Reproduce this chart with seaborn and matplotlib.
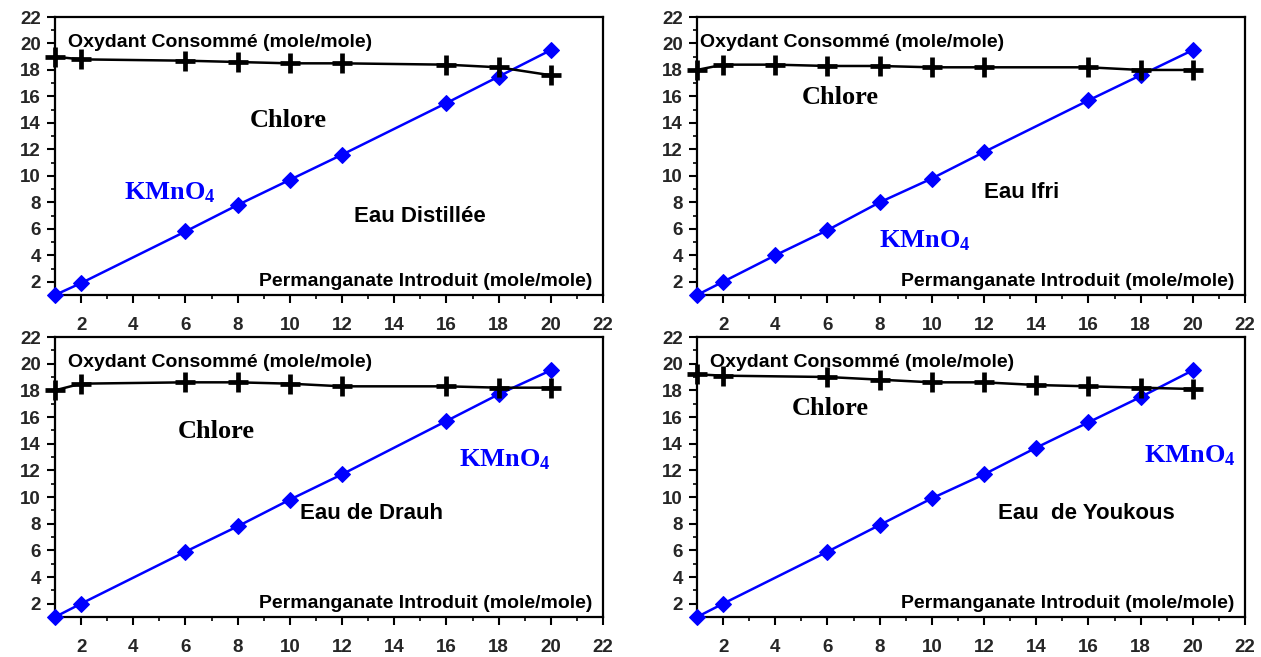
import numpy as np
import pandas as pd
import matplotlib
matplotlib.use("Agg")
import matplotlib.pyplot as plt
import seaborn as sns
from matplotlib.ticker import MultipleLocator

sns.set_theme(style="white")
plt.rcParams['font.family'] = ['Liberation Sans', 'DejaVu Sans']
plt.rcParams['mathtext.fontset'] = 'custom'
plt.rcParams['mathtext.rm'] = 'Liberation Serif:bold'
plt.rcParams['mathtext.bf'] = 'Liberation Serif:bold'
plt.rcParams['mathtext.it'] = 'Liberation Serif:bold'

# ---- data ----
x_dist = [1, 2, 6, 8, 10, 12, 16, 18, 20]
chl_dist = [19.0, 18.8, 18.7, 18.6, 18.5, 18.5, 18.4, 18.2, 17.6]
kmn_dist = [1.0, 1.9, 5.8, 7.8, 9.7, 11.6, 15.5, 17.5, 19.5]

x_ifri = [1, 2, 4, 6, 8, 10, 12, 16, 18, 20]
chl_ifri = [18.0, 18.4, 18.4, 18.3, 18.3, 18.2, 18.2, 18.2, 18.0, 18.0]
kmn_ifri = [1.0, 2.0, 4.0, 5.9, 8.0, 9.8, 11.8, 15.7, 17.6, 19.5]

x_drauh = [1, 2, 6, 8, 10, 12, 16, 18, 20]
chl_drauh = [18.0, 18.5, 18.6, 18.6, 18.5, 18.3, 18.3, 18.2, 18.2]
kmn_drauh = [1.0, 2.0, 5.9, 7.8, 9.8, 11.7, 15.7, 17.7, 19.5]

x_youk = [1, 2, 6, 8, 10, 12, 14, 16, 18, 20]
chl_youk = [19.2, 19.1, 19.0, 18.8, 18.6, 18.6, 18.4, 18.3, 18.2, 18.1]
kmn_youk = [1.0, 2.0, 5.9, 7.9, 9.9, 11.7, 13.7, 15.6, 17.5, 19.5]

titles = ["Eau Distillée", "Eau Ifri", "Eau de Drauh", "Eau  de Youkous"]
ylabel_txt = "Oxydant Consommé (mole/mole)"
xlabel_txt = "Permanganate Introduit (mole/mole)"
x_ticks = [2, 4, 6, 8, 10, 12, 14, 16, 18, 20, 22]
y_ticks = [2, 4, 6, 8, 10, 12, 14, 16, 18, 20, 22]

panels = [
    (x_dist, chl_dist, kmn_dist),
    (x_ifri, chl_ifri, kmn_ifri),
    (x_drauh, chl_drauh, kmn_drauh),
    (x_youk, chl_youk, kmn_youk),
]

# label positions (axes fraction)
chlore_pos = [(0.425, 0.626), (0.261, 0.709), (0.294, 0.661), (0.243, 0.746)]
kmn_pos = [(0.209, 0.367), (0.416, 0.194), (0.82, 0.561), (0.90, 0.575)]
title_pos = [(0.666, 0.284), (0.593, 0.367), (0.578, 0.368), (0.71, 0.368)]
oxy_x = [0.024, 0.005, 0.024, 0.024]

W, H = 1261, 657
fig = plt.figure(figsize=(W / 100, H / 100), dpi=100)
rects = [(55, 17, 548, 278), (697, 17, 548, 278), (55, 337, 548, 280), (697, 337, 548, 280)]

for i, ((xs, chl, kmn), (l, t, w, h)) in enumerate(zip(panels, rects)):
    ax = fig.add_axes([l / W, 1 - (t + h) / H, w / W, h / H])
    df = pd.DataFrame({"x": xs, "chlore": chl, "kmno4": kmn})
    sns.lineplot(data=df, x="x", y="kmno4", ax=ax, color="#0000FF", lw=1.8,
                 marker="D", markersize=8.5, markeredgecolor="#0000FF", clip_on=False, zorder=3)
    sns.lineplot(data=df, x="x", y="chlore", ax=ax, color="black", lw=1.8,
                 clip_on=False, zorder=4)
    ax.plot(df["x"], df["chlore"], ls="none", marker="+", markersize=14, mew=3.4,
            color="black", clip_on=False, zorder=5)
    ax.set_xlim(1, 22)
    ax.set_ylim(1, 22)
    ax.set_xlabel("")
    ax.set_ylabel("")
    ax.set_xticks(x_ticks)
    ax.set_yticks(y_ticks)
    ax.xaxis.set_minor_locator(MultipleLocator(1))
    ax.yaxis.set_minor_locator(MultipleLocator(1))
    ax.tick_params(axis="both", which="major", direction="out", length=6, width=1.5,
                   color="black", labelsize=13.5, bottom=True, left=True)
    ax.tick_params(axis="both", which="minor", direction="out", length=3, width=1.2,
                   color="black", bottom=True, left=True)
    ax.tick_params(axis="x", pad=10)
    ax.tick_params(axis="y", pad=4)
    for lab in ax.get_xticklabels() + ax.get_yticklabels():
        lab.set_fontweight("bold")
    for sp in ax.spines.values():
        sp.set_color("black")
        sp.set_linewidth(1.6)
    ax.text(oxy_x[i], 0.91, ylabel_txt, transform=ax.transAxes, ha="left", va="center",
            fontsize=14, fontweight="bold", color="black")
    ax.text(0.98, 0.047, xlabel_txt, transform=ax.transAxes, ha="right", va="center",
            fontsize=14, fontweight="bold", color="black")
    ax.text(*chlore_pos[i], "Chlore", transform=ax.transAxes, ha="center", va="center",
            fontsize=19, fontweight="bold", family="Liberation Serif", color="black")
    ax.text(*kmn_pos[i], r"$\mathrm{KMnO_4}$", transform=ax.transAxes, ha="center",
            va="center", fontsize=19, color="#0000FF")
    ax.text(*title_pos[i], titles[i], transform=ax.transAxes, ha="center", va="center",
            fontsize=16, fontweight="bold", color="black")

fig.savefig("out.png", dpi=100)
